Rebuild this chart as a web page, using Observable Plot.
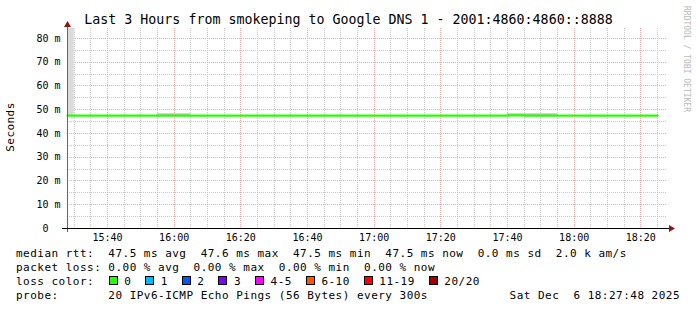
<!DOCTYPE html>
<html>
<head>
<meta charset="utf-8">
<script src="https://cdn.jsdelivr.net/npm/d3@7"></script>
<script src="https://cdn.jsdelivr.net/npm/@observablehq/plot@0.6"></script>
<style>
html, body { margin: 0; padding: 0; background: #fff; }
#wrap { position: relative; width: 697px; height: 310px; overflow: hidden; font-family: "DejaVu Sans Mono", monospace; color: #000; background: #fff; }
#title { position: absolute; left: 0; top: 11.5px; width: 697px; text-align: center; font-size: 13.3px; line-height: 16px; white-space: pre; }
#chart { position: absolute; left: 0; top: 0; }
#ylabel { position: absolute; left: 11px; top: 127px; transform: translate(-50%, -50%) rotate(-90deg); font-size: 11px; letter-spacing: 0.45px; line-height: 14px; white-space: pre; }
#mark { position: absolute; left: 686px; top: 59px; transform: translate(-50%, -50%) rotate(90deg); font-size: 8px; line-height: 10px; color: #b8b8b8; white-space: pre; }
#footer { position: absolute; left: 16px; top: 247px; width: 664px; font-size: 11px; letter-spacing: 0.48px; line-height: 14px; }
.row { position: relative; height: 14px; white-space: pre; }
.sq { display: inline-block; width: 9px; height: 9px; box-sizing: border-box; border: 1px solid #000; margin-right: 6.5px; }
.item { margin-right: 14px; }
#date { position: absolute; right: 0; top: 0; }
</style>
</head>
<body>
<div id="wrap">
  <div id="title"></div>
  <div id="chart"></div>
  <div id="ylabel">Seconds</div>
  <div id="mark">RRDTOOL / TOBI OETIKER</div>
  <div id="footer"></div>
</div>
<script>
// ---- data ----
const titleText = "Last 3 Hours from smokeping to Google DNS 1 - 2001:4860:4860::8888";
const yAxisLabel = "Seconds";
const graphStart = "15:28";
const graphEnd = "18:28";
const times = ["15:28","15:30","15:35","15:40","15:45","15:50","15:55","16:00","16:05","16:10","16:15","16:20","16:25","16:30","16:35","16:40","16:45","16:50","16:55","17:00","17:05","17:10","17:15","17:20","17:25","17:30","17:35","17:40","17:45","17:50","17:55","18:00","18:05","18:10","18:15","18:20","18:25"];
const medianRtt = [47.5,47.5,47.5,47.5,47.5,47.5,47.5,47.5,47.5,47.5,47.5,47.5,47.5,47.5,47.5,47.5,47.5,47.5,47.5,47.5,47.5,47.5,47.5,47.5,47.5,47.5,47.5,47.5,47.6,47.5,47.5,47.5,47.5,47.5,47.5,47.5,47.5];
const unknownStart = ["15:28"];
const unknownEnd = ["15:30"];
const smokeStart = ["15:55","17:40"];
const smokeEnd = ["16:05","17:55"];
const smokeLo = [47.1, 47.1];
const smokeHi = [48.3, 48.3];
const yTickValues = [0,10,20,30,40,50,60,70,80];
const xTickLabels = ["15:40","16:00","16:20","16:40","17:00","17:20","17:40","18:00","18:20"];
const yMax = 84.2;
const rttValues = ["47.5 ms","47.6 ms","47.5 ms","47.5 ms","0.0 ms","2.0 k"];
const rttNames = ["avg","max","min","now","sd","am/s"];
const lossValues = ["0.00 %","0.00 %","0.00 %","0.00 %"];
const lossNames = ["avg","max","min","now"];
const lossLabels = ["0","1","2","3","4-5","6-10","11-19","20/20"];
const lossColors = ["#26ff00","#00b8ff","#0059ff","#7e00ff","#ff00ff","#ff5500","#ff0000","#a10000"];
const probeText = "20 IPv6-ICMP Echo Pings (56 Bytes) every 300s";
const dateText = "Sat Dec  6 18:27:48 2025";

// ---- build ----
const parse = s => new Date(Date.UTC(2025, 11, 6, +s.slice(0, 2), +s.slice(3, 5)));
const start = parse(graphStart), end = parse(graphEnd);
const rtt = times.map((t, i) => ({t: parse(t), v: medianRtt[i]}));
const unknown = unknownStart.map((s, i) => ({x1: parse(s), x2: parse(unknownEnd[i]), y1: medianRtt[0], y2: yMax}));
const smoke = smokeStart.map((s, i) => ({x1: parse(s), x2: parse(smokeEnd[i]), y1: smokeLo[i], y2: smokeHi[i]}));
const majorX = xTickLabels.map(parse);
const minorX = d3.utcMinute.every(5).range(start, end).filter(d => !majorX.some(m => +m === +d));
const minorY = d3.range(5, yMax, 10);
const majorY = yTickValues.filter(v => v > 0);

const grid = "#c8c8c8", mgrid = "#f5a8a8";
const plot = Plot.plot({
  width: 697, height: 245,
  marginLeft: 67, marginRight: 30, marginTop: 28, marginBottom: 17,
  style: {background: "transparent", fontFamily: '"DejaVu Sans Mono", monospace', fontSize: "10px", color: "#000", overflow: "visible"},
  x: {type: "utc", domain: [start, end]},
  y: {domain: [0, yMax]},
  marks: [
    Plot.ruleX(minorX, {stroke: grid, strokeDasharray: "1,1", shapeRendering: "crispEdges"}),
    Plot.ruleY(minorY, {stroke: grid, strokeDasharray: "1,1", shapeRendering: "crispEdges"}),
    Plot.ruleX(majorX, {stroke: mgrid, strokeDasharray: "1,1", shapeRendering: "crispEdges"}),
    Plot.ruleY(majorY, {stroke: mgrid, strokeDasharray: "1,1", shapeRendering: "crispEdges"}),
    Plot.rect(unknown, {x1: "x1", x2: "x2", y1: "y1", y2: "y2", fill: "#dadada"}),
    Plot.rect(smoke, {x1: "x1", x2: "x2", y1: "y1", y2: "y2", fill: "#c4c4c4"}),
    Plot.line(rtt, {x: "t", y: "v", stroke: "#26ff00", strokeWidth: 2.2, curve: "step-before"}),
    Plot.axisX({ticks: majorX, tickFormat: d3.utcFormat("%H:%M"), tickSize: 0, tickPadding: 5, fontSize: 10, label: null}),
    Plot.axisY({ticks: yTickValues, tickFormat: d => d === 0 ? "0\u00a0\u00a0" : d + " m", tickSize: 0, tickPadding: 7, fontSize: 10, label: null})
  ]
});
document.getElementById("chart").appendChild(plot);

// axis lines and arrows (from the scales)
const xs = plot.scale("x"), ys = plot.scale("y");
const px0 = Math.round(xs.apply(start)), px1 = Math.round(xs.apply(end));
const py0 = Math.round(ys.apply(0)), pyT = Math.round(ys.apply(yMax));
const svg = d3.select(plot);
const g = svg.append("g");
g.append("line").attr("x1", px0 + 0.5).attr("x2", px0 + 0.5).attr("y1", py0 + 4).attr("y2", pyT - 2).attr("stroke", "#666").attr("shape-rendering", "crispEdges");
g.append("line").attr("x1", px0 - 5).attr("x2", px1 + 3).attr("y1", py0 + 0.5).attr("y2", py0 + 0.5).attr("stroke", "#000").attr("shape-rendering", "crispEdges");
g.append("path").attr("d", `M${px0 + 0.5 - 3.5},${pyT - 1}L${px0 + 0.5 + 3.5},${pyT - 1}L${px0 + 0.5},${pyT - 7}Z`).attr("fill", "#9b1010");
g.append("path").attr("d", `M${px1 + 2},${py0 + 0.5 - 3.5}L${px1 + 2},${py0 + 0.5 + 3.5}L${px1 + 8},${py0 + 0.5}Z`).attr("fill", "#9b1010");

// texts
document.getElementById("title").textContent = titleText;
document.getElementById("ylabel").textContent = yAxisLabel;
const footer = document.getElementById("footer");
const row1 = document.createElement("div"); row1.className = "row";
row1.textContent = "median rtt:  " + rttValues.map((v, i) => v + " " + rttNames[i]).join("  ");
const row2 = document.createElement("div"); row2.className = "row";
row2.textContent = "packet loss: " + lossValues.map((v, i) => v + " " + lossNames[i]).join("  ");
const row3 = document.createElement("div"); row3.className = "row";
const lc = document.createElement("span"); lc.textContent = "loss color:"; lc.style.marginRight = "14.5px"; row3.appendChild(lc);
lossLabels.forEach((l, i) => {
  const sq = document.createElement("span"); sq.className = "sq"; sq.style.background = lossColors[i]; row3.appendChild(sq);
  const t = document.createElement("span"); t.className = "item"; t.textContent = l; row3.appendChild(t);
});
const row4 = document.createElement("div"); row4.className = "row";
row4.textContent = "probe:       " + probeText;
const dt = document.createElement("span"); dt.id = "date"; dt.textContent = dateText; row4.appendChild(dt);
[row1, row2, row3, row4].forEach(r => footer.appendChild(r));
</script>
</body>
</html>
